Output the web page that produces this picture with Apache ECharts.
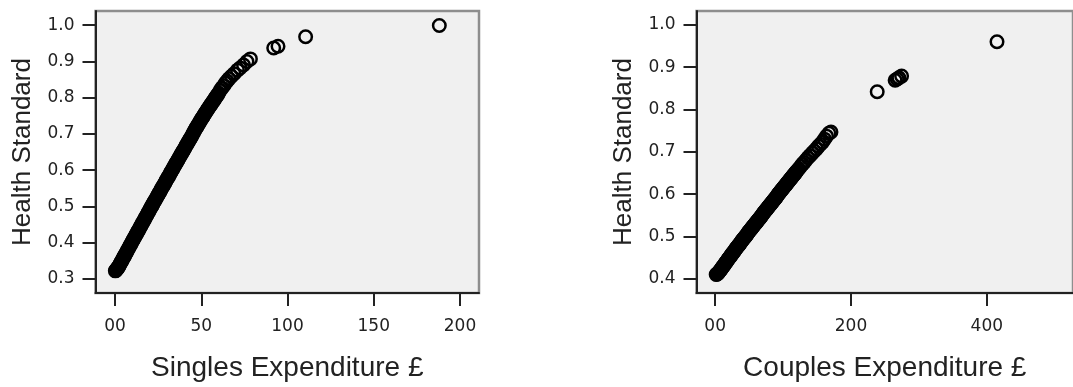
<!DOCTYPE html>
<html>
<head>
<meta charset="utf-8">
<script src="https://cdn.jsdelivr.net/npm/echarts@6/dist/echarts.min.js"></script>
<style>
  html, body { margin: 0; padding: 0; background: #fff; }
  #chart { width: 1073px; height: 387px; }
</style>
</head>
<body>
<div id="chart"></div>
<script>
// singles: expenditure (£) vs health standard
const singlesSpend = [
  0.2, 0.5, 0.8, 1.0, 1.3, 1.6, 2.0, 2.4, 2.8, 3.2, 3.6, 4.0, 4.4, 4.8, 5.2, 5.6, 6.0, 6.5, 7.0, 7.5,
  8.0, 8.5, 9.0, 9.5, 10, 10.5, 11, 11.5, 12, 12.5, 13, 13.5, 14, 14.5, 15, 15.5, 16, 16.5, 17, 17.5,
  18, 18.5, 19, 19.5, 20, 20.5, 21, 21.5, 22, 22.5, 23, 23.5, 24, 24.5, 25, 25.5, 26, 26.5, 27, 27.5,
  28, 28.5, 29, 29.5, 30, 30.5, 31, 31.5, 32, 32.5, 33, 33.5, 34, 34.5, 35, 35.5, 36, 36.5, 37, 37.5,
  38, 38.5, 39, 39.5, 40, 40.5, 41, 41.5, 42, 42.5, 43, 43.5, 44, 44.5, 45, 45.5, 46, 46.5, 47, 47.5,
  48, 48.5, 49, 49.5, 50, 50.5, 51, 51.5, 52, 52.5, 53, 53.5, 54, 54.5, 55, 55.5, 56, 56.5, 57, 57.5,
  58, 58.5, 59, 59.5, 60, 61, 62, 63, 64, 65, 66, 67.5, 69, 71, 72.5, 74.5, 76.5, 78.5,
  92, 94.5, 110.5, 188
];
const singlesHealth = [
  0.322, 0.323, 0.325, 0.327, 0.328, 0.330, 0.333, 0.336, 0.340, 0.343, 0.347, 0.350, 0.354, 0.357, 0.361, 0.364, 0.368, 0.372, 0.376, 0.381,
  0.385, 0.390, 0.394, 0.398, 0.403, 0.407, 0.411, 0.416, 0.420, 0.424, 0.429, 0.433, 0.437, 0.442, 0.446, 0.450, 0.455, 0.459, 0.463, 0.468,
  0.472, 0.476, 0.481, 0.485, 0.489, 0.494, 0.498, 0.502, 0.507, 0.511, 0.515, 0.519, 0.523, 0.528, 0.532, 0.536, 0.540, 0.544, 0.549, 0.553,
  0.557, 0.561, 0.565, 0.570, 0.574, 0.578, 0.582, 0.586, 0.591, 0.595, 0.599, 0.603, 0.607, 0.612, 0.616, 0.620, 0.624, 0.628, 0.632, 0.637,
  0.641, 0.645, 0.649, 0.653, 0.657, 0.661, 0.666, 0.670, 0.674, 0.678, 0.682, 0.686, 0.690, 0.694, 0.699, 0.703, 0.708, 0.712, 0.716, 0.720,
  0.724, 0.728, 0.732, 0.736, 0.740, 0.744, 0.747, 0.751, 0.755, 0.759, 0.762, 0.766, 0.770, 0.773, 0.777, 0.780, 0.784, 0.787, 0.791, 0.794,
  0.798, 0.801, 0.805, 0.808, 0.812, 0.820, 0.827, 0.833, 0.840, 0.846, 0.852, 0.859, 0.866, 0.876, 0.882, 0.890, 0.900, 0.907,
  0.937, 0.942, 0.968, 0.999
];

// couples: expenditure (£) vs health standard
const couplesSpend = [
  1.5, 2.5, 3.5, 4.5, 5.5, 7, 8, 9, 10, 11, 12, 13, 14, 15, 16, 17, 18, 19, 20, 21, 22, 23, 24, 25, 26, 27, 28, 29, 30, 31,
  32, 33, 34, 35, 36, 37, 38, 39, 40, 41, 42, 43, 44, 45, 46, 47, 48, 49, 50, 51, 52, 53, 54, 55, 56, 57, 58, 59, 60, 61,
  62, 63, 64, 65, 66, 67, 68, 69, 70, 71, 72, 73, 74, 75, 76, 77, 78, 79, 80, 81, 82, 83, 84, 85, 86, 87, 88, 89, 90, 91,
  92, 93, 94, 95, 96, 97, 98, 99, 100, 101, 102, 103, 104, 105, 106, 107, 108, 109, 110, 111, 112, 113, 114, 115, 116, 117, 118, 119,
  121, 123, 126, 128.5, 131, 133.5, 136.5, 139.5, 143, 146, 149, 152, 155, 158, 161, 164, 167.5, 170.5,
  238.6, 265, 268, 270.5, 274.5, 415
];
const couplesHealth = [
  0.410, 0.411, 0.412, 0.414, 0.416, 0.419, 0.421, 0.423, 0.426, 0.428, 0.430, 0.432, 0.434, 0.437, 0.439, 0.441, 0.443, 0.446, 0.448, 0.450, 0.452, 0.454, 0.457, 0.459, 0.461, 0.463, 0.465, 0.467, 0.470, 0.472,
  0.474, 0.476, 0.478, 0.480, 0.482, 0.484, 0.487, 0.489, 0.491, 0.493, 0.495, 0.497, 0.499, 0.501, 0.503, 0.505, 0.508, 0.510, 0.512, 0.514, 0.516, 0.518, 0.520, 0.522, 0.524, 0.526, 0.528, 0.530, 0.532, 0.534,
  0.536, 0.538, 0.540, 0.542, 0.544, 0.546, 0.548, 0.550, 0.553, 0.555, 0.557, 0.559, 0.561, 0.563, 0.565, 0.567, 0.569, 0.571, 0.573, 0.575, 0.577, 0.579, 0.581, 0.583, 0.585, 0.587, 0.589, 0.591, 0.593, 0.595,
  0.598, 0.600, 0.602, 0.604, 0.606, 0.608, 0.610, 0.612, 0.614, 0.616, 0.618, 0.620, 0.622, 0.624, 0.626, 0.628, 0.630, 0.632, 0.634, 0.636, 0.638, 0.640, 0.642, 0.644, 0.646, 0.648, 0.650, 0.652,
  0.656, 0.660, 0.666, 0.671, 0.675, 0.680, 0.686, 0.691, 0.697, 0.702, 0.707, 0.713, 0.718, 0.723, 0.730, 0.737, 0.744, 0.747,
  0.842, 0.869, 0.872, 0.875, 0.879, 0.960
];

const singlesXTicks = [0, 50, 100, 150, 200];
const singlesYTicks = [0.3, 0.4, 0.5, 0.6, 0.7, 0.8, 0.9, 1.0];
const couplesXTicks = [0, 200, 400];
const couplesYTicks = [0.4, 0.5, 0.6, 0.7, 0.8, 0.9, 1.0];

const FONT = "'Liberation Sans', Arial, sans-serif";
const TICK_FONT = "'DejaVu Sans', Verdana, sans-serif";
const INK = '#222';

function pairs(xs, ys) {
  return xs.map((x, i) => [x, ys[i]]);
}

function xAxisFor(gridIndex, name, min, max, ticks) {
  return {
    gridIndex: gridIndex,
    type: 'value',
    min: min,
    max: max,
    name: name,
    nameLocation: 'middle',
    nameGap: 61,
    nameTextStyle: { fontFamily: FONT, fontSize: 28, color: INK },
    axisLine: { onZero: false, lineStyle: { color: INK, width: 2 } },
    axisTick: { customValues: ticks, length: 13, lineStyle: { color: INK, width: 2 } },
    axisLabel: {
      customValues: ticks,
      margin: 25,
      fontFamily: TICK_FONT,
      fontSize: 17,
      color: INK,
      formatter: v => (v === 0 ? '00' : String(v))
    },
    splitLine: { show: false }
  };
}

function yAxisFor(gridIndex, min, max, ticks) {
  return {
    gridIndex: gridIndex,
    type: 'value',
    min: min,
    max: max,
    name: 'Health Standard',
    nameLocation: 'middle',
    nameGap: 60,
    nameTextStyle: { fontFamily: FONT, fontSize: 26, color: INK },
    axisLine: { onZero: false, lineStyle: { color: INK, width: 2 } },
    axisTick: { customValues: ticks, length: 13, lineStyle: { color: INK, width: 2 } },
    axisLabel: {
      customValues: ticks,
      margin: 21,
      fontFamily: TICK_FONT,
      fontSize: 17,
      color: INK,
      formatter: v => v.toFixed(1)
    },
    splitLine: { show: false }
  };
}

function ringSeries(idx, data) {
  return {
    type: 'scatter',
    xAxisIndex: idx,
    yAxisIndex: idx,
    symbol: 'circle',
    symbolSize: 12.5,
    itemStyle: { color: 'rgba(0,0,0,0)', borderColor: '#000', borderWidth: 2.5, opacity: 1 },
    data: data
  };
}

const chart = echarts.init(document.getElementById('chart'));
const gridStyle = {
  show: true,
  backgroundColor: '#f0f0f0',
  borderColor: '#8e8e8e',
  borderWidth: 2.5
};

chart.setOption({
  animation: false,
  backgroundColor: '#fff',
  grid: [
    Object.assign({ left: 95.5, top: 11, width: 383.5, height: 284 }, gridStyle),
    Object.assign({ left: 696.5, top: 11, width: 383.5, height: 284 }, gridStyle)
  ],
  xAxis: [
    xAxisFor(0, 'Singles Expenditure £', -11.3, 211.0, singlesXTicks),
    xAxisFor(1, 'Couples Expenditure £', -27.5, 526.9, couplesXTicks)
  ],
  yAxis: [
    yAxisFor(0, 0.2609, 1.0392, singlesYTicks),
    yAxisFor(1, 0.3664, 1.0328, couplesYTicks)
  ],
  series: [
    ringSeries(0, pairs(singlesSpend, singlesHealth)),
    ringSeries(1, pairs(couplesSpend, couplesHealth))
  ]
});
</script>
</body>
</html>
